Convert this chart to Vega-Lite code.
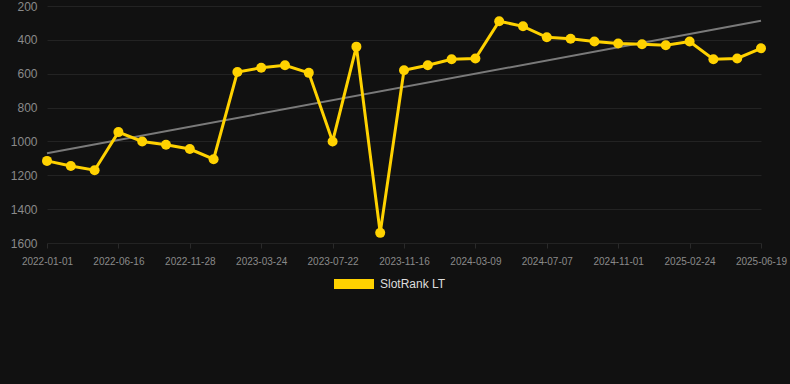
{
  "$schema": "https://vega.github.io/schema/vega-lite/v6.json",
  "width": 790,
  "height": 237,
  "autosize": {"type": "none"},
  "padding": {"left": 0, "top": 6, "right": 0, "bottom": 141},
  "background": "#111111",
  "config": {
    "view": {"stroke": null},
    "font": "Liberation Sans",
    "axis": {"gridColor": "#232323", "gridWidth": 1, "domain": false, "tickColor": "#2a2a2a", "labelColor": "#8a8a8a"}
  },
  "datasets": {
    "rank": [
      {"date": "2022-01-01", "rank": 1115},
      {"date": "2022-02-25", "rank": 1145},
      {"date": "2022-04-21", "rank": 1170},
      {"date": "2022-06-16", "rank": 945},
      {"date": "2022-08-10", "rank": 1000},
      {"date": "2022-10-04", "rank": 1020},
      {"date": "2022-11-28", "rank": 1045},
      {"date": "2023-01-06", "rank": 1105},
      {"date": "2023-02-14", "rank": 590},
      {"date": "2023-03-24", "rank": 565},
      {"date": "2023-05-03", "rank": 550},
      {"date": "2023-06-12", "rank": 595},
      {"date": "2023-07-22", "rank": 1000},
      {"date": "2023-08-30", "rank": 440},
      {"date": "2023-10-08", "rank": 1540},
      {"date": "2023-11-16", "rank": 580},
      {"date": "2023-12-24", "rank": 550},
      {"date": "2024-01-31", "rank": 515},
      {"date": "2024-03-09", "rank": 510},
      {"date": "2024-04-18", "rank": 290},
      {"date": "2024-05-28", "rank": 320},
      {"date": "2024-07-07", "rank": 385},
      {"date": "2024-08-14", "rank": 393},
      {"date": "2024-09-22", "rank": 410},
      {"date": "2024-11-01", "rank": 422},
      {"date": "2024-12-09", "rank": 426},
      {"date": "2025-01-16", "rank": 432},
      {"date": "2025-02-24", "rank": 410},
      {"date": "2025-04-03", "rank": 515},
      {"date": "2025-05-11", "rank": 510},
      {"date": "2025-06-19", "rank": 450}
    ],
    "trend": [
      {"date": "2022-01-01", "rank": 1070},
      {"date": "2025-06-19", "rank": 287}
    ]
  },
  "encoding": {
    "x": {
      "field": "date", "type": "nominal",
      "scale": {"type": "point", "range": [47, 761], "padding": 0},
      "axis": {
        "title": null, "labelAngle": 0, "labelFontSize": 10, "labelPadding": 8, "tickSize": 5,
        "values": ["2022-01-01","2022-06-16","2022-11-28","2023-03-24","2023-07-22","2023-11-16","2024-03-09","2024-07-07","2024-11-01","2025-02-24","2025-06-19"]
      }
    },
    "y": {
      "field": "rank", "type": "quantitative",
      "scale": {"domain": [200, 1600], "reverse": true, "nice": false, "zero": false},
      "axis": {
        "title": null, "values": [200,400,600,800,1000,1200,1400,1600], "format": "d", "labelFontSize": 12,
        "tickSize": 0, "labelPadding": -37, "labelBaseline": "middle"
      }
    }
  },
  "layer": [
    {
      "data": {"name": "trend"},
      "mark": {"type": "line", "color": "#7a7a7a", "strokeWidth": 2}
    },
    {
      "data": {"name": "rank"},
      "mark": {"type": "line", "strokeWidth": 3, "strokeJoin": "miter"},
      "encoding": {
        "color": {
          "datum": "SlotRank LT", "type": "nominal",
          "scale": {"domain": ["SlotRank LT"], "range": ["#FFD200"]},
          "legend": {
            "title": null, "orient": "none", "legendX": 344, "legendY": 268,
            "symbolType": "M-2,-0.5H2V0.5H-2Z", "symbolSize": 400,
            "symbolFillColor": "#FFD200", "symbolStrokeWidth": 0, "symbolOpacity": 1,
            "labelColor": "#dddddd", "labelFontSize": 12, "labelOffset": 16
          }
        }
      }
    },
    {
      "data": {"name": "rank"},
      "mark": {"type": "point", "filled": true, "size": 100, "color": "#FFD200", "opacity": 1}
    }
  ]
}
